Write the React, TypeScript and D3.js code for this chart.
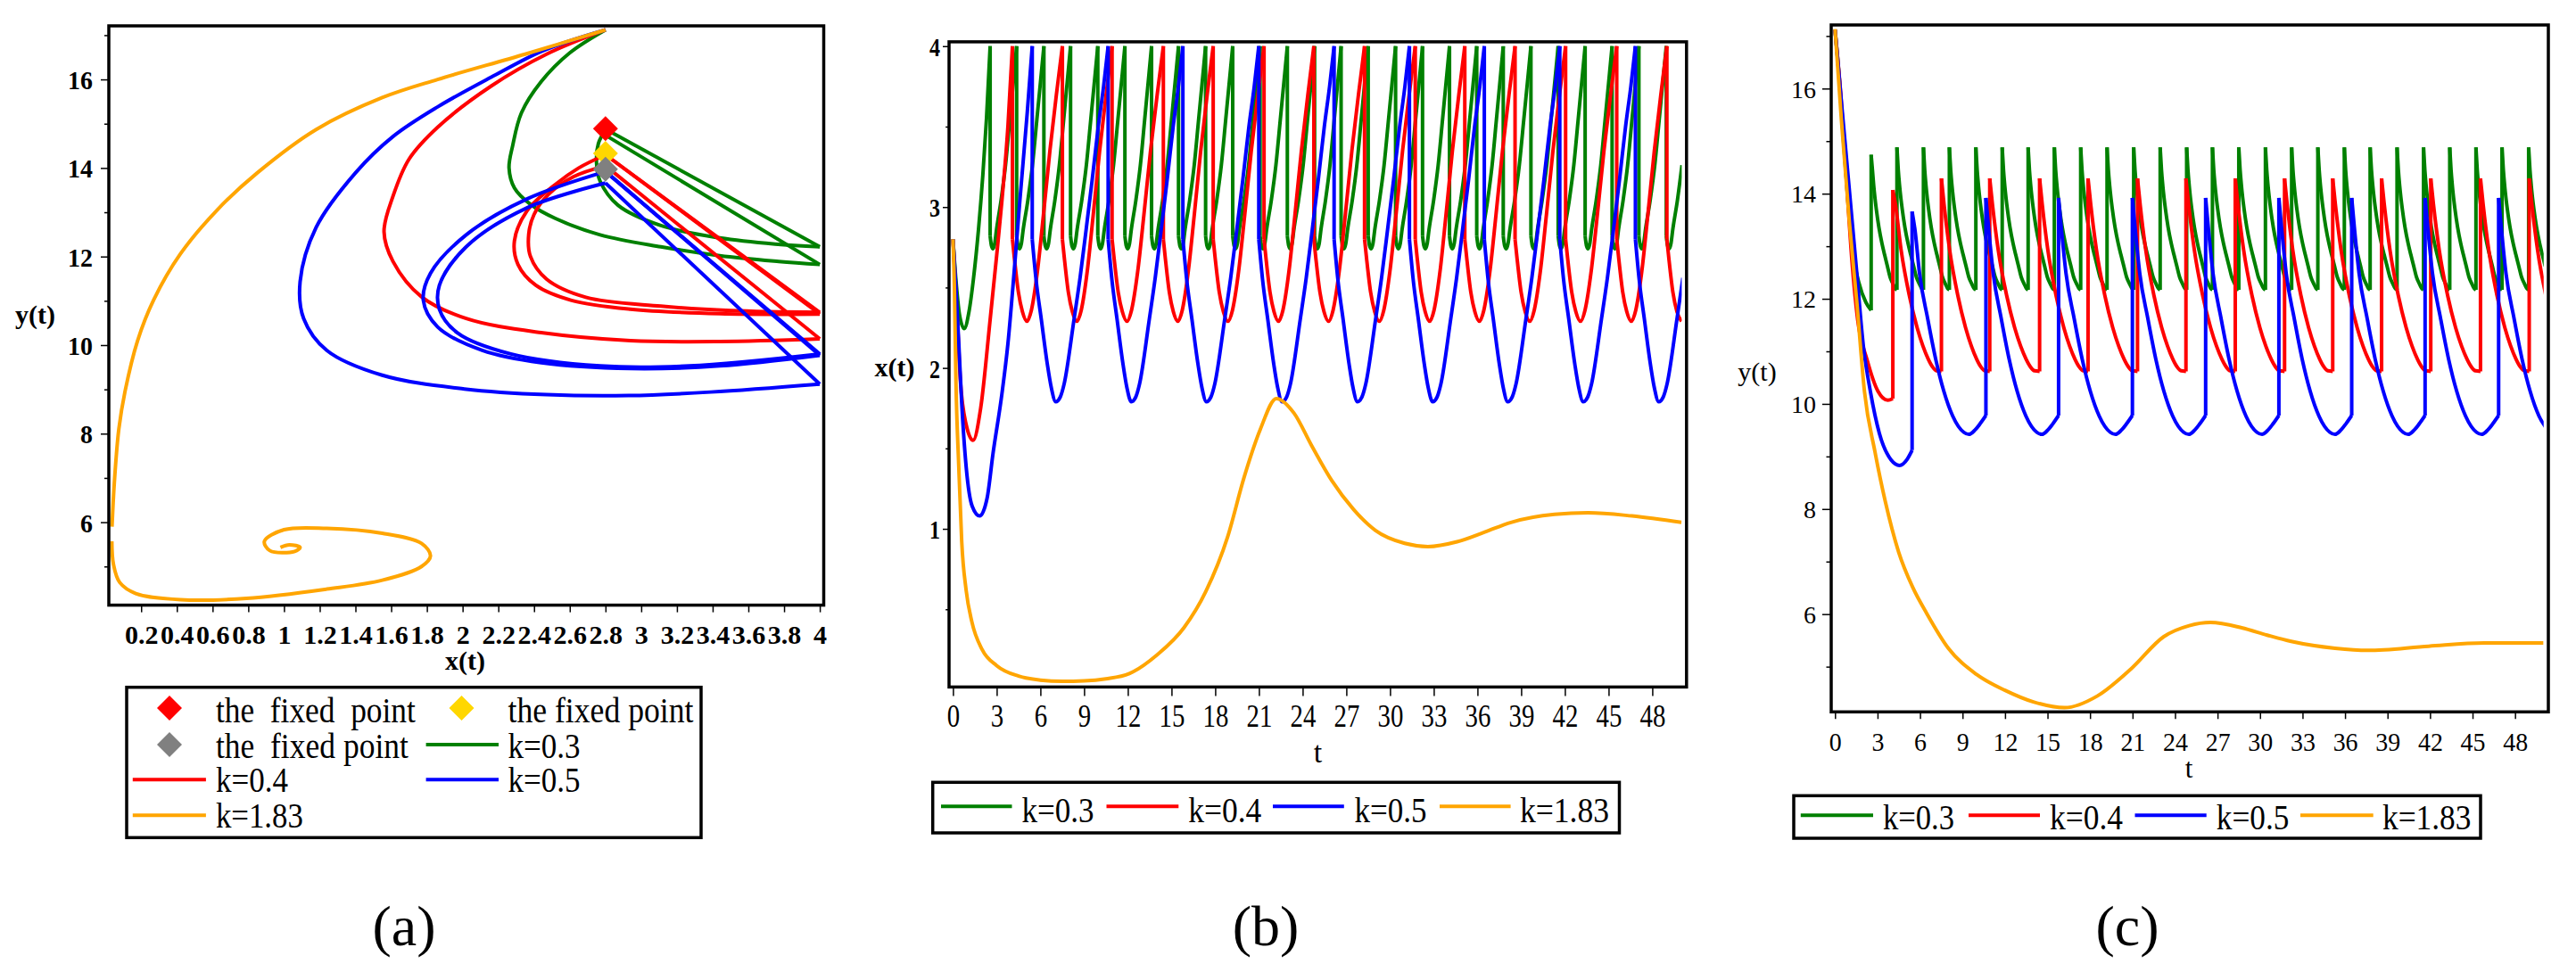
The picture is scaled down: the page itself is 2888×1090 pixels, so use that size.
import React, { useEffect, useRef } from 'react';
import * as d3 from 'd3';

// ---------- values ----------
const seriesNames = ['k=0.3', 'k=0.4', 'k=0.5', 'k=1.83'];
const seriesColors = ['#008000', '#ff0000', '#0000ff', '#ffa500'];

const phaseXTicks = [0.2, 0.4, 0.6, 0.8, 1, 1.2, 1.4, 1.6, 1.8, 2, 2.2, 2.4, 2.6, 2.8, 3, 3.2, 3.4, 3.6, 3.8, 4];
const yMajorTicks = [6, 8, 10, 12, 14, 16];
const yMinorTicks = [5, 7, 9, 11, 13, 15, 17];
const tTicks = [0, 3, 6, 9, 12, 15, 18, 21, 24, 27, 30, 33, 36, 39, 42, 45, 48];
const xMajorTicks = [1, 2, 3, 4];
const xMinorTicks = [0.5, 1.5, 2.5, 3.5];

// fixed points of panel (a)
const fixedPointX = [2.8, 2.8, 2.8];
const fixedPointY = [14.89, 14.33, 13.97];
const fixedPointColors = ['#ff0000', '#ffd700', '#808080'];
const fixedPointLabels = ['the  fixed  point', 'the fixed point', 'the  fixed point'];

// panel (a): phase plane, x(t) vs y(t)
const phaseGreenArc = [[2.8, 17.12], [2.6, 16.6], [2.44, 15.95], [2.33, 15.25], [2.28, 14.5], [2.26, 14.0], [2.29, 13.55], [2.38, 13.18], [2.52, 12.86], [2.77, 12.49], [3.11, 12.22], [3.44, 12.02], [3.77, 11.89], [4.0, 11.82]];
const phaseGreenCycle = [[2.8, 14.86], [2.76, 14.55], [2.75, 14.1], [2.77, 13.7], [2.87, 13.16], [3.11, 12.7], [3.44, 12.42], [3.75, 12.28], [4.0, 12.22]];
const phaseGreenJumps = [[[4.0, 11.82], [2.8, 14.74]], [[4.0, 12.22], [2.8, 14.88]]];

const phaseRedArc = [[2.8, 17.12], [2.47, 16.57], [2.16, 15.85], [1.86, 14.92], [1.7, 14.2], [1.61, 13.36], [1.56, 12.56], [1.61, 11.89], [1.77, 11.09], [2.02, 10.6], [2.44, 10.28], [2.94, 10.1], [3.44, 10.08], [4.0, 10.14]];
const phaseRedLoop1 = [[2.8, 14.05], [2.62, 13.8], [2.48, 13.4], [2.4, 12.95], [2.37, 12.5], [2.38, 12.0], [2.47, 11.49], [2.69, 11.08], [3.11, 10.88], [3.5, 10.78], [4.0, 10.74]];
const phaseRedLoop2 = [[2.8, 14.3], [2.65, 14.0], [2.52, 13.63], [2.36, 13.03], [2.29, 12.35], [2.31, 11.82], [2.41, 11.35], [2.61, 11.01], [2.94, 10.81], [3.44, 10.71], [4.0, 10.7]];
const phaseRedJumps = [[[4.0, 10.14], [2.8, 14.05]], [[4.0, 10.74], [2.8, 14.3]], [[4.0, 10.7], [2.8, 14.3]]];

const phaseBlueArc = [[2.8, 17.12], [2.45, 16.65], [2.16, 16.05], [1.86, 15.38], [1.61, 14.71], [1.4, 13.89], [1.18, 12.66], [1.09, 11.43], [1.11, 10.6], [1.24, 9.88], [1.55, 9.32], [2.01, 9.01], [2.47, 8.88], [2.93, 8.86], [3.39, 8.94], [4.0, 9.12]];
const phaseBlueLoop1 = [[2.8, 13.66], [2.36, 13.1], [2.02, 12.22], [1.87, 11.35], [1.87, 10.81], [1.97, 10.28], [2.27, 9.8], [2.77, 9.53], [3.27, 9.53], [4.0, 9.8]];
const phaseBlueLoop2 = [[2.8, 13.92], [2.36, 13.3], [2.02, 12.49], [1.82, 11.62], [1.78, 11.01], [1.86, 10.41], [2.11, 9.88], [2.44, 9.6], [2.94, 9.47], [3.44, 9.53], [4.0, 9.77]];
const phaseBlueJumps = [[[4.0, 9.12], [2.8, 13.66]], [[4.0, 9.8], [2.8, 13.92]], [[4.0, 9.77], [2.8, 13.92]]];

const phaseOrangeA = [[2.8, 17.12], [2.35, 16.57], [1.86, 16.0], [1.55, 15.59], [1.18, 14.87], [0.85, 13.89], [0.63, 13.07], [0.42, 12.06], [0.27, 11.02], [0.18, 10.1], [0.11, 8.96], [0.075, 8.1], [0.05, 6.9], [0.037, 5.9]];
const phaseOrangeB = [[0.036, 5.57], [0.045, 5.05], [0.08, 4.64], [0.17, 4.39], [0.42, 4.25], [0.79, 4.28], [1.24, 4.49], [1.55, 4.69], [1.77, 5.0], [1.82, 5.24], [1.77, 5.52], [1.55, 5.75], [1.24, 5.86], [1.0, 5.83], [0.89, 5.57], [0.92, 5.36], [1.06, 5.34], [1.09, 5.43], [1.03, 5.49], [0.98, 5.43]];

// impulse times (x reaches 4)
const greenJumps = [2.55, 4.37, 6.24, 8.07, 9.94, 11.8, 13.63, 15.48, 17.34, 19.2, 21.08, 22.95, 24.82, 26.64, 28.5, 30.38, 32.23, 34.08, 35.95, 37.77, 39.67, 41.54, 43.39, 45.24, 47.08, 48.96];
const redJumps = [4.08, 7.51, 10.92, 14.44, 17.86, 21.35, 24.77, 28.25, 31.73, 35.13, 38.58, 42.05, 45.56, 49.0];
const blueJumps = [5.44, 10.65, 15.78, 20.99, 26.16, 31.33, 36.47, 41.65, 46.84];

// panel (b): x(t); transient up to first impulse, then one cycle (fraction of period, value)
const greenXStart = [[0, 2.8], [0.2, 2.55], [0.45, 2.33], [0.77, 2.245], [1.1, 2.35], [1.4, 2.55], [1.75, 2.86], [2.05, 3.2], [2.3, 3.55], [2.55, 4.0]];
const greenXCycle = [[0, 2.82], [0.05, 2.76], [0.11, 2.74], [0.17, 2.77], [0.24, 2.86], [0.41, 3.04], [0.58, 3.26], [0.74, 3.54], [0.91, 3.84], [1, 4.0]];
const redXStart = [[0, 2.8], [0.15, 2.55], [0.3, 2.3], [0.5, 1.93], [0.9, 1.65], [1.38, 1.55], [1.9, 1.75], [2.55, 2.3], [3.0, 2.7], [3.36, 3.04], [3.77, 3.5], [4.08, 4.0]];
const redXCycle = [[0, 2.8], [0.04, 2.68], [0.12, 2.47], [0.2, 2.35], [0.29, 2.29], [0.38, 2.36], [0.5, 2.6], [0.62, 2.95], [0.75, 3.35], [0.88, 3.7], [1, 4.0]];
const blueXStart = [[0, 2.8], [0.2, 2.5], [0.4, 2.15], [0.6, 1.78], [0.91, 1.38], [1.32, 1.14], [1.83, 1.08], [2.34, 1.19], [2.75, 1.47], [3.36, 1.84], [3.77, 2.15], [4.2, 2.6], [4.59, 3.04], [5.1, 3.59], [5.44, 4.0]];
const blueXCycle = [[0, 2.8], [0.05, 2.55], [0.12, 2.3], [0.2, 2.02], [0.25, 1.88], [0.31, 1.79], [0.37, 1.82], [0.42, 1.9], [0.55, 2.3], [0.63, 2.56], [0.71, 2.86], [0.79, 3.17], [0.87, 3.5], [0.94, 3.75], [1, 4.0]];
const orangeX = [[0, 2.8], [0.1, 2.49], [0.2, 1.93], [0.4, 1.38], [0.6, 0.92], [0.9, 0.62], [1.3, 0.42], [2, 0.25], [3, 0.15], [4.5, 0.085], [6, 0.06], [7.5, 0.052], [9, 0.055], [10.5, 0.068], [12.1, 0.1], [14, 0.216], [15.85, 0.385], [17.35, 0.61], [18.85, 0.95], [19.98, 1.32], [21.1, 1.62], [22.2, 1.81], [23.4, 1.72], [24.6, 1.52], [26, 1.3], [27.5, 1.12], [29, 0.99], [31, 0.91], [32.6, 0.89], [34.6, 0.92], [36.5, 0.98], [38.3, 1.04], [41.3, 1.09], [43.6, 1.1], [46.6, 1.08], [50, 1.04]];

// panel (c): y(t)
const greenYStart = [[0, 17.12], [0.3, 16.2], [0.6, 15.0], [0.9, 13.9], [1.28, 12.84], [1.67, 12.32], [2.18, 11.93], [2.55, 11.78]];
const greenYCycle = [[0, 14.88], [0.05, 14.45], [0.1, 14.15], [0.2, 13.7], [0.3, 13.36], [0.42, 13.05], [0.52, 12.84], [0.63, 12.62], [0.73, 12.42], [0.85, 12.28], [0.93, 12.2], [1, 12.17]];
const redYStart = [[0, 17.12], [0.4, 15.9], [0.8, 14.3], [1.2, 12.7], [1.6, 11.6], [2.25, 10.85], [3.03, 10.24], [3.73, 10.07], [4.08, 10.1]];
const redYCycle = [[0, 14.29], [0.055, 13.79], [0.17, 12.93], [0.34, 12.06], [0.5, 11.45], [0.62, 11.1], [0.73, 10.85], [0.82, 10.7], [0.9, 10.63], [1, 10.62]];
const blueYStart = [[0, 17.12], [0.5, 15.6], [1.0, 14.1], [1.5, 12.6], [2.0, 11.1], [2.5, 10.23], [3.13, 9.44], [3.97, 8.93], [4.55, 8.83], [5.1, 8.95], [5.44, 9.12]];
const blueYCycle = [[0, 13.92], [0.04, 13.3], [0.1, 12.49], [0.21, 11.63], [0.32, 10.85], [0.43, 10.24], [0.55, 9.77], [0.7, 9.46], [0.77, 9.42], [0.85, 9.5], [0.92, 9.62], [1, 9.78]];
const orangeY = [[0, 17.13], [0.45, 15.4], [1.0, 13.5], [1.55, 11.9], [2.08, 10.23], [2.81, 9.1], [3.55, 8.14], [4.49, 7.18], [5.5, 6.5], [6.5, 6.0], [8, 5.35], [10, 4.85], [12, 4.55], [14, 4.33], [16.2, 4.22], [18.5, 4.44], [20.9, 4.96], [23.2, 5.57], [25, 5.78], [26.5, 5.84], [28.7, 5.74], [30.5, 5.6], [32.2, 5.48], [35.3, 5.35], [37.6, 5.31], [41.9, 5.39], [45.8, 5.45], [50, 5.45]];
const firstPeakY = [14.74, 14.07, 13.66];

// ---------- drawing ----------
const W = 2888, H = 1090;
const FONT = '"Liberation Serif", "Times New Roman", Times, serif';
const LW = 4;

type P = number[];

function periodic(start: P[], cycle: P[], jumps: number[], firstTo?: number) {
  const curves: P[][] = [start];
  const drops: P[][] = [];
  const mean = (jumps[jumps.length - 1] - jumps[0]) / (jumps.length - 1);
  let prevEnd = start[start.length - 1][1];
  jumps.forEach((tj, i) => {
    const period = i < jumps.length - 1 ? jumps[i + 1] - tj : mean;
    const pts: P[] = [];
    for (let k = 0; k < cycle.length; k++) {
      const t = tj + cycle[k][0] * period;
      const v = k === 0 && i === 0 && firstTo != null ? firstTo : cycle[k][1];
      pts.push([t, v]);
      if (t > 50) break;
    }
    drops.push([[tj, prevEnd], [tj, pts[0][1]]]);
    curves.push(pts);
    prevEnd = cycle[cycle.length - 1][1];
  });
  return { curves, drops };
}

function xAxis(svg: any, scale: any, y: number, values: number[], o: any) {
  const g = svg.append('g').attr('transform', `translate(0,${y})`)
    .call(d3.axisBottom(scale).tickValues(values).tickSize(o.size).tickSizeOuter(0).tickFormat(o.fmt || ((d: any) => String(d))));
  g.select('.domain').remove();
  g.attr('font-family', FONT).attr('font-size', o.fontSize || 10).attr('font-weight', o.weight || 'normal');
  g.selectAll('.tick line').attr('stroke', '#000').attr('stroke-width', 1.5);
  g.selectAll('.tick text').attr('y', o.labelY).attr('dy', null).attr('fill', '#000')
    .attr('transform', `scale(${o.sx || 1},1)`);
}

function yAxis(svg: any, scale: any, x: number, values: number[], o: any) {
  const g = svg.append('g').attr('transform', `translate(${x},0)`)
    .call(d3.axisLeft(scale).tickValues(values).tickSize(o.size).tickSizeOuter(0).tickFormat(o.fmt || ((d: any) => String(d))));
  g.select('.domain').remove();
  g.attr('font-family', FONT).attr('font-size', o.fontSize || 10).attr('font-weight', o.weight || 'normal');
  g.selectAll('.tick line').attr('stroke', '#000').attr('stroke-width', 1.5);
  const sx = o.sx || 1;
  g.selectAll('.tick text').attr('x', -(o.labelX || 0) / sx).attr('dy', '0.35em').attr('fill', '#000')
    .attr('transform', `scale(${sx},1)`);
}

function label(svg: any, text: string, x: number, y: number, size: number, o: any = {}) {
  const t = svg.append('text').attr('x', x).attr('y', y).attr('font-family', FONT).attr('font-size', size)
    .attr('font-weight', o.weight || 'normal').attr('text-anchor', o.anchor || 'middle').attr('fill', '#000')
    .style('white-space', 'pre').text(text);
  if (o.len) t.attr('textLength', o.len).attr('lengthAdjust', 'spacingAndGlyphs');
  return t;
}

function diamond(svg: any, cx: number, cy: number, color: string) {
  svg.append('path').attr('d', `M${cx},${cy - 14}L${cx + 14},${cy}L${cx},${cy + 14}L${cx - 14},${cy}Z`).attr('fill', color);
}

function frame(svg: any, l: number, t: number, r: number, b: number, sw = 3.5) {
  svg.append('rect').attr('x', l).attr('y', t).attr('width', r - l).attr('height', b - t)
    .attr('fill', 'none').attr('stroke', '#000').attr('stroke-width', sw);
}

function drawPhase(svg: any) {
  const L = 122, R = 923.5, T = 29, B = 678.6;
  const x = d3.scaleLinear().domain([0.019, 4.022]).range([L, R]);
  const y = d3.scaleLinear().domain([4.127, 17.21]).range([B, T]);
  const smooth = d3.line<P>().x(d => x(d[0])).y(d => y(d[1])).curve(d3.curveCatmullRom.alpha(0.5));
  const straight = d3.line<P>().x(d => x(d[0])).y(d => y(d[1]));

  svg.append('clipPath').attr('id', 'clipA').append('rect').attr('x', L).attr('y', T).attr('width', R - L).attr('height', B - T);
  const g = svg.append('g').attr('clip-path', 'url(#clipA)');

  const groups: [P[][], P[][], string][] = [
    [[phaseGreenArc, phaseGreenCycle], phaseGreenJumps, seriesColors[0]],
    [[phaseRedArc, phaseRedLoop1, phaseRedLoop2], phaseRedJumps, seriesColors[1]],
    [[phaseBlueArc, phaseBlueLoop1, phaseBlueLoop2], phaseBlueJumps, seriesColors[2]],
    [[phaseOrangeA, phaseOrangeB], [], seriesColors[3]],
  ];
  groups.forEach(([curves, jumps, color]) => {
    curves.forEach(c => g.append('path').attr('d', smooth(c as any)).attr('fill', 'none').attr('stroke', color).attr('stroke-width', LW));
    jumps.forEach(j => g.append('path').attr('d', straight(j as any)).attr('fill', 'none').attr('stroke', color).attr('stroke-width', LW));
  });
  fixedPointX.forEach((fx, i) => diamond(svg, x(fx), y(fixedPointY[i]), fixedPointColors[i]));

  xAxis(svg, x, B, phaseXTicks, { size: 8, labelY: 43, fontSize: 30, weight: 'bold', fmt: (d: number) => String(+d.toFixed(1)) });
  yAxis(svg, y, L, yMajorTicks, { size: 9, labelX: 18, fontSize: 30, weight: 'bold', sx: 0.93 });
  yAxis(svg, y, L, yMinorTicks, { size: 5, fmt: () => '' });
  frame(svg, L, T, R, B);

  label(svg, 'y(t)', 39.5, 363, 30, { weight: 'bold' });
  label(svg, 'x(t)', 521.5, 751, 30, { weight: 'bold' });

  // legend
  frame(svg, 142, 770.7, 786, 939.3, 3.5);
  const colX = [{ sym: 190, l0: 148.8, l1: 230.9, tx: 241.9 }, { sym: 517.5, l0: 477.6, l1: 559, tx: 569.5 }];
  const rowY = [{ s: 794, b: 810 }, { s: 835, b: 850 }, { s: 874.3, b: 888.3 }, { s: 914.3, b: 928.3 }];
  const widths = [224, 208, 216, 81, 81, 81, 98];
  const items = [
    ...fixedPointLabels.map((lab, i) => ({ kind: 'd', color: fixedPointColors[i], lab })),
    ...seriesNames.map((lab, i) => ({ kind: 'l', color: seriesColors[i], lab })),
  ];
  items.forEach((it, i) => {
    const c = colX[i % 2], r = rowY[Math.floor(i / 2)];
    if (it.kind === 'd') diamond(svg, c.sym, r.s, it.color);
    else svg.append('line').attr('x1', c.l0).attr('x2', c.l1).attr('y1', r.s).attr('y2', r.s).attr('stroke', it.color).attr('stroke-width', LW);
    label(svg, it.lab, c.tx, r.b, 39, { anchor: 'start', len: widths[i] });
  });
  label(svg, '(a)', 453, 1060, 64);
}

function drawSeries(svg: any, cfg: any) {
  const { L, R, T, B, yDomain, id } = cfg;
  const x = d3.scaleLinear().domain([-0.27, 50.35]).range([L, R]);
  const y = d3.scaleLinear().domain(yDomain).range([B, T]);
  const smooth = d3.line<P>().x(d => x(d[0])).y(d => y(d[1])).curve(d3.curveMonotoneX);
  const straight = d3.line<P>().x(d => x(d[0])).y(d => y(d[1]));

  svg.append('clipPath').attr('id', id).append('rect').attr('x', L).attr('y', T).attr('width', x(50.02) - L).attr('height', B - T);
  const g = svg.append('g').attr('clip-path', `url(#${id})`);

  cfg.series.forEach((s: any, i: number) => {
    const color = seriesColors[i];
    s.curves.forEach((c: P[]) => g.append('path').attr('d', smooth(c)).attr('fill', 'none').attr('stroke', color).attr('stroke-width', LW));
    s.drops.forEach((c: P[]) => g.append('path').attr('d', straight(c)).attr('fill', 'none').attr('stroke', color).attr('stroke-width', LW));
  });

  xAxis(svg, x, B, tTicks, cfg.xTick);
  yAxis(svg, y, L, cfg.yMajor, cfg.yTick);
  yAxis(svg, y, L, cfg.yMinor, { size: cfg.yTick.size * 0.55, fmt: () => '' });
  frame(svg, L, T, R, B);

  label(svg, cfg.yLabel, cfg.yLabelPos[0], cfg.yLabelPos[1], 30, { weight: cfg.yLabelWeight });
  label(svg, 't', cfg.tLabelPos[0], cfg.tLabelPos[1], cfg.tLabelSize);

  const lg = cfg.legend;
  frame(svg, lg.box[0], lg.box[1], lg.box[2], lg.box[3], 3.5);
  seriesNames.forEach((name, i) => {
    svg.append('line').attr('x1', lg.lines[i][0]).attr('x2', lg.lines[i][1]).attr('y1', lg.lineY).attr('y2', lg.lineY)
      .attr('stroke', seriesColors[i]).attr('stroke-width', LW);
    label(svg, name, lg.text[i], lg.base, 40, { anchor: 'start', len: lg.widths[i] });
  });
  label(svg, cfg.caption, cfg.captionX, 1060, 64);
}

export default function App() {
  const ref = useRef<SVGSVGElement>(null);
  useEffect(() => {
    const svg = d3.select(ref.current);
    svg.selectAll('*').remove();
    drawPhase(svg);

    const bG = periodic(greenXStart, greenXCycle, greenJumps);
    const bR = periodic(redXStart, redXCycle, redJumps);
    const bB = periodic(blueXStart, blueXCycle, blueJumps);
    drawSeries(svg, {
      id: 'clipB', L: 1064, R: 1890.8, T: 46.9, B: 770.4, yDomain: [0.017, 4.027],
      series: [bG, bR, bB, { curves: [orangeX], drops: [] }],
      xTick: { size: 10, labelY: 45, fontSize: 36, sx: 0.8 },
      yMajor: xMajorTicks, yMinor: xMinorTicks,
      yTick: { size: 7, labelX: 10, fontSize: 30, weight: 'bold', sx: 0.8 },
      yLabel: 'x(t)', yLabelPos: [1003, 421.6], yLabelWeight: 'bold',
      tLabelPos: [1477.5, 855], tLabelSize: 34,
      legend: {
        box: [1045.7, 877.3, 1815.5, 934], lineY: 904.3, base: 921.7,
        lines: [[1055, 1134.5], [1240.5, 1321.3], [1427, 1506.8], [1614, 1693.6]],
        text: [1145.5, 1332.3, 1518.5, 1704], widths: [81, 82, 81, 100],
      },
      caption: '(b)', captionX: 1419,
    });

    const cG = periodic(greenYStart, greenYCycle, greenJumps, firstPeakY[0]);
    const cR = periodic(redYStart, redYCycle, redJumps, firstPeakY[1]);
    const cB = periodic(blueYStart, blueYCycle, blueJumps, firstPeakY[2]);
    drawSeries(svg, {
      id: 'clipC', L: 2053, R: 2857, T: 28, B: 798.3, yDomain: [4.14, 17.21],
      series: [cG, cR, cB, { curves: [orangeY], drops: [] }],
      xTick: { size: 8, labelY: 43.4, fontSize: 30, sx: 0.93 },
      yMajor: yMajorTicks, yMinor: yMinorTicks,
      yTick: { size: 10, labelX: 17, fontSize: 28 },
      yLabel: 'y(t)', yLabelPos: [1970, 426.7], yLabelWeight: 'normal',
      tLabelPos: [2454, 872], tLabelSize: 31,
      legend: {
        box: [2011, 892.3, 2781, 940], lineY: 914.3, base: 930,
        lines: [[2018.8, 2100], [2207, 2287], [2393.5, 2473.7], [2579, 2660.7]],
        text: [2111, 2298, 2484.8, 2671], widths: [80, 82, 81.5, 99.4],
      },
      caption: '(c)', captionX: 2385,
    });
  }, []);

  return <svg ref={ref} width={W} height={H} style={{ position: 'absolute', left: 0, top: 0, background: '#fff' }} />;
}
